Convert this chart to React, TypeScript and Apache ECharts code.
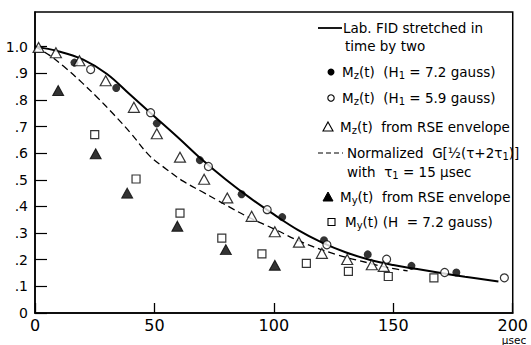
import React, { useEffect, useRef } from 'react';
import * as echarts from 'echarts';

const FONT = 'DejaVu Sans';

// Solid curve: Lab. FID stretched in time by two
const fidStretched: [number, number][] = [
  [0, 1.0], [10, 0.982], [20, 0.952], [30, 0.898], [40, 0.818], [50, 0.738], [60, 0.658],
  [70, 0.575], [80, 0.5], [90, 0.432], [100, 0.37], [110, 0.312], [120, 0.265], [130, 0.228],
  [140, 0.2], [150, 0.18], [160, 0.165], [170, 0.15], [180, 0.136], [194, 0.118],
];

// Dashed curve: Normalized G[1/2(tau + 2 tau1)]
const normalizedG: [number, number][] = [
  [0, 1.0], [6, 0.968], [12, 0.926], [20, 0.862], [26, 0.81], [33, 0.745], [40, 0.676],
  [48, 0.59], [55, 0.54], [62, 0.495], [70, 0.455], [76, 0.425], [83, 0.39], [90, 0.357],
  [100, 0.316], [112, 0.265], [126, 0.22], [140, 0.187], [148, 0.17], [156, 0.158],
];

// Mz(t) (H1 = 7.2 gauss) filled circles
const mz72: [number, number][] = [
  [16.5, 0.94], [34, 0.845], [51, 0.712], [69, 0.574], [86.5, 0.446], [103.5, 0.36],
  [121, 0.273], [139.3, 0.22], [157.6, 0.177], [176.4, 0.152],
];

// Mz(t) (H1 = 5.9 gauss) open circles
const mz59: [number, number][] = [
  [23.3, 0.914], [48.4, 0.752], [72.6, 0.55], [97.2, 0.388], [122.2, 0.256],
  [147.2, 0.202], [171.5, 0.152], [196.5, 0.132],
];

// Mz(t) from RSE envelope open triangles
const mzRse: [number, number][] = [
  [1.5, 0.997], [8.75, 0.977], [18.6, 0.947], [29.6, 0.872], [41.4, 0.772], [51, 0.673],
  [60.7, 0.585], [70.8, 0.502], [80.5, 0.432], [90.7, 0.363], [100.4, 0.305], [110.5, 0.266],
  [120.1, 0.224], [130.7, 0.201], [141, 0.181], [146, 0.175],
];

// My(t) from RSE envelope filled triangles
const myRse: [number, number][] = [
  [9.7, 0.835], [25.4, 0.598], [38.6, 0.45], [59.6, 0.326], [79.9, 0.238], [100.4, 0.179],
];

// My(t) (H = 7.2 gauss) open squares
const my72: [number, number][] = [
  [25, 0.67], [42.3, 0.503], [60.7, 0.375], [78.2, 0.281], [95, 0.222], [113.6, 0.186],
  [131.2, 0.156], [147.9, 0.137], [167, 0.132],
];

const yTickValues = [0, 0.1, 0.2, 0.3, 0.4, 0.5, 0.6, 0.7, 0.8, 0.9, 1.0];
const yTickLabels = ['0', '.1', '.2', '.3', '.4', '.5', '.6', '.7', '.8', '.9', '1.0'];
const xTickValues = [0, 50, 100, 150, 200];

const legendTexts = {
  fid1: 'Lab. FID stretched in',
  fid2: 'time by two',
  mz72: 'M{sub|z}(t)  (H{sub|1} = 7.2 gauss)',
  mz59: 'M{sub|z}(t)  (H{sub|1} = 5.9 gauss)',
  mzRse: 'M{sub|z}(t)  from RSE envelope',
  g1: 'Normalized  G[½(τ+2τ{sub|1})]',
  g2: 'with  τ{sub|1} = 15 μsec',
  myRse: 'M{sub|y}(t)  from RSE envelope',
  my72: 'M{sub|y}(t) (H  = 7.2 gauss)',
  unit: 'μsec',
};

const rich = {
  sub: { fontFamily: FONT, fontSize: 10, padding: [7, 0, 0, 0], fill: '#000' },
};

function legendText(x: number, y: number, text: string) {
  return {
    type: 'text',
    x,
    y,
    silent: true,
    style: {
      text,
      fontFamily: FONT,
      fontSize: 13.5,
      fill: '#000',
      align: 'left',
      verticalAlign: 'middle',
      rich,
    },
  };
}

export default function App() {
  const ref = useRef<HTMLDivElement>(null);

  useEffect(() => {
    if (!ref.current) return;
    const chart = echarts.init(ref.current, undefined, { renderer: 'svg' });

    const scatterBase = { type: 'scatter', z: 5 };

    const graphic: any[] = [
      { type: 'line', shape: { x1: 318, y1: 28, x2: 342, y2: 28 }, style: { stroke: '#000', lineWidth: 1.8 } },
      legendText(343, 28, legendTexts.fid1),
      legendText(345, 46, legendTexts.fid2),
      { type: 'circle', shape: { cx: 331, cy: 72, r: 3.5 }, style: { fill: '#000' } },
      legendText(342, 72, legendTexts.mz72),
      { type: 'circle', shape: { cx: 331, cy: 98, r: 3.2 }, style: { fill: '#fff', stroke: '#000', lineWidth: 1.1 } },
      legendText(342, 98, legendTexts.mz59),
      { type: 'polygon', shape: { points: [[328, 122], [333, 131], [323, 131]] }, style: { fill: '#fff', stroke: '#000', lineWidth: 1.1 } },
      legendText(340, 127, legendTexts.mzRse),
      { type: 'line', shape: { x1: 318, y1: 153, x2: 343, y2: 153 }, style: { stroke: '#000', lineWidth: 1.2, lineDash: [5, 3] } },
      legendText(347, 153, legendTexts.g1),
      legendText(347, 172, legendTexts.g2),
      { type: 'polygon', shape: { points: [[328, 192], [333, 201], [323, 201]] }, style: { fill: '#000', stroke: '#000', lineWidth: 1 } },
      legendText(340, 197, legendTexts.myRse),
      { type: 'rect', shape: { x: 328, y: 218.5, width: 7, height: 7 }, style: { fill: '#fff', stroke: '#000', lineWidth: 1.1 } },
      legendText(345, 222, legendTexts.my72),
      {
        type: 'text', x: 514, y: 340, silent: true,
        style: { text: legendTexts.unit, fontFamily: FONT, fontSize: 10.5, fill: '#000', align: 'center', verticalAlign: 'middle' },
      },
    ];

    chart.setOption({
      animation: false,
      backgroundColor: '#fff',
      grid: {
        left: 35, right: 14, top: 12, bottom: 32,
        show: true, borderColor: '#000', borderWidth: 1.5, backgroundColor: 'transparent',
      },
      xAxis: {
        type: 'value', min: 0, max: 200, interval: 50,
        axisLine: { show: true, lineStyle: { color: '#000', width: 1.5 } },
        axisTick: { show: true, inside: true, length: 10, lineStyle: { color: '#000', width: 1.3 }, customValues: xTickValues },
        axisLabel: { color: '#000', fontFamily: FONT, fontSize: 16, margin: 4, customValues: xTickValues },
        splitLine: { show: false },
      },
      yAxis: {
        type: 'value', min: 0, max: 1.13, interval: 0.1,
        axisLine: { show: true, lineStyle: { color: '#000', width: 1.5 } },
        axisTick: { show: true, inside: true, length: 12, lineStyle: { color: '#000', width: 1.2 }, customValues: yTickValues },
        axisLabel: {
          color: '#000', fontFamily: FONT, fontSize: 14, margin: 7, customValues: yTickValues,
          formatter: (v: number) => {
            const i = yTickValues.findIndex((t) => Math.abs(t - v) < 1e-6);
            return i >= 0 ? yTickLabels[i] : '';
          },
        },
        splitLine: { show: false },
      },
      graphic,
      series: [
        {
          name: 'Lab. FID stretched in time by two', type: 'line', data: fidStretched, smooth: 0.4,
          showSymbol: false, lineStyle: { color: '#000', width: 2 }, z: 3, silent: true,
        },
        {
          name: 'Normalized G', type: 'line', data: normalizedG, smooth: 0.4,
          showSymbol: false, lineStyle: { color: '#000', width: 1.3, type: [7, 4] }, z: 3, silent: true,
        },
        {
          ...scatterBase, name: 'Mz 7.2', data: mz72, symbol: 'circle', symbolSize: 8,
          itemStyle: { color: '#000' },
        },
        {
          ...scatterBase, name: 'Mz 5.9', data: mz59, symbol: 'circle', symbolSize: 8,
          itemStyle: { color: '#fff', borderColor: '#000', borderWidth: 1.2 },
        },
        {
          ...scatterBase, name: 'Mz RSE', data: mzRse, symbol: 'triangle', symbolSize: [11, 10],
          itemStyle: { color: '#fff', borderColor: '#000', borderWidth: 1.2 },
        },
        {
          ...scatterBase, name: 'My RSE', data: myRse, symbol: 'triangle', symbolSize: [11, 10],
          itemStyle: { color: '#000', borderColor: '#000', borderWidth: 1 },
        },
        {
          ...scatterBase, name: 'My 7.2', data: my72, symbol: 'rect', symbolSize: 8,
          itemStyle: { color: '#fff', borderColor: '#000', borderWidth: 1.2 },
        },
      ],
    });

    return () => chart.dispose();
  }, []);

  return <div ref={ref} style={{ position: 'fixed', left: 0, top: 0, width: 531, height: 345 }} />;
}
